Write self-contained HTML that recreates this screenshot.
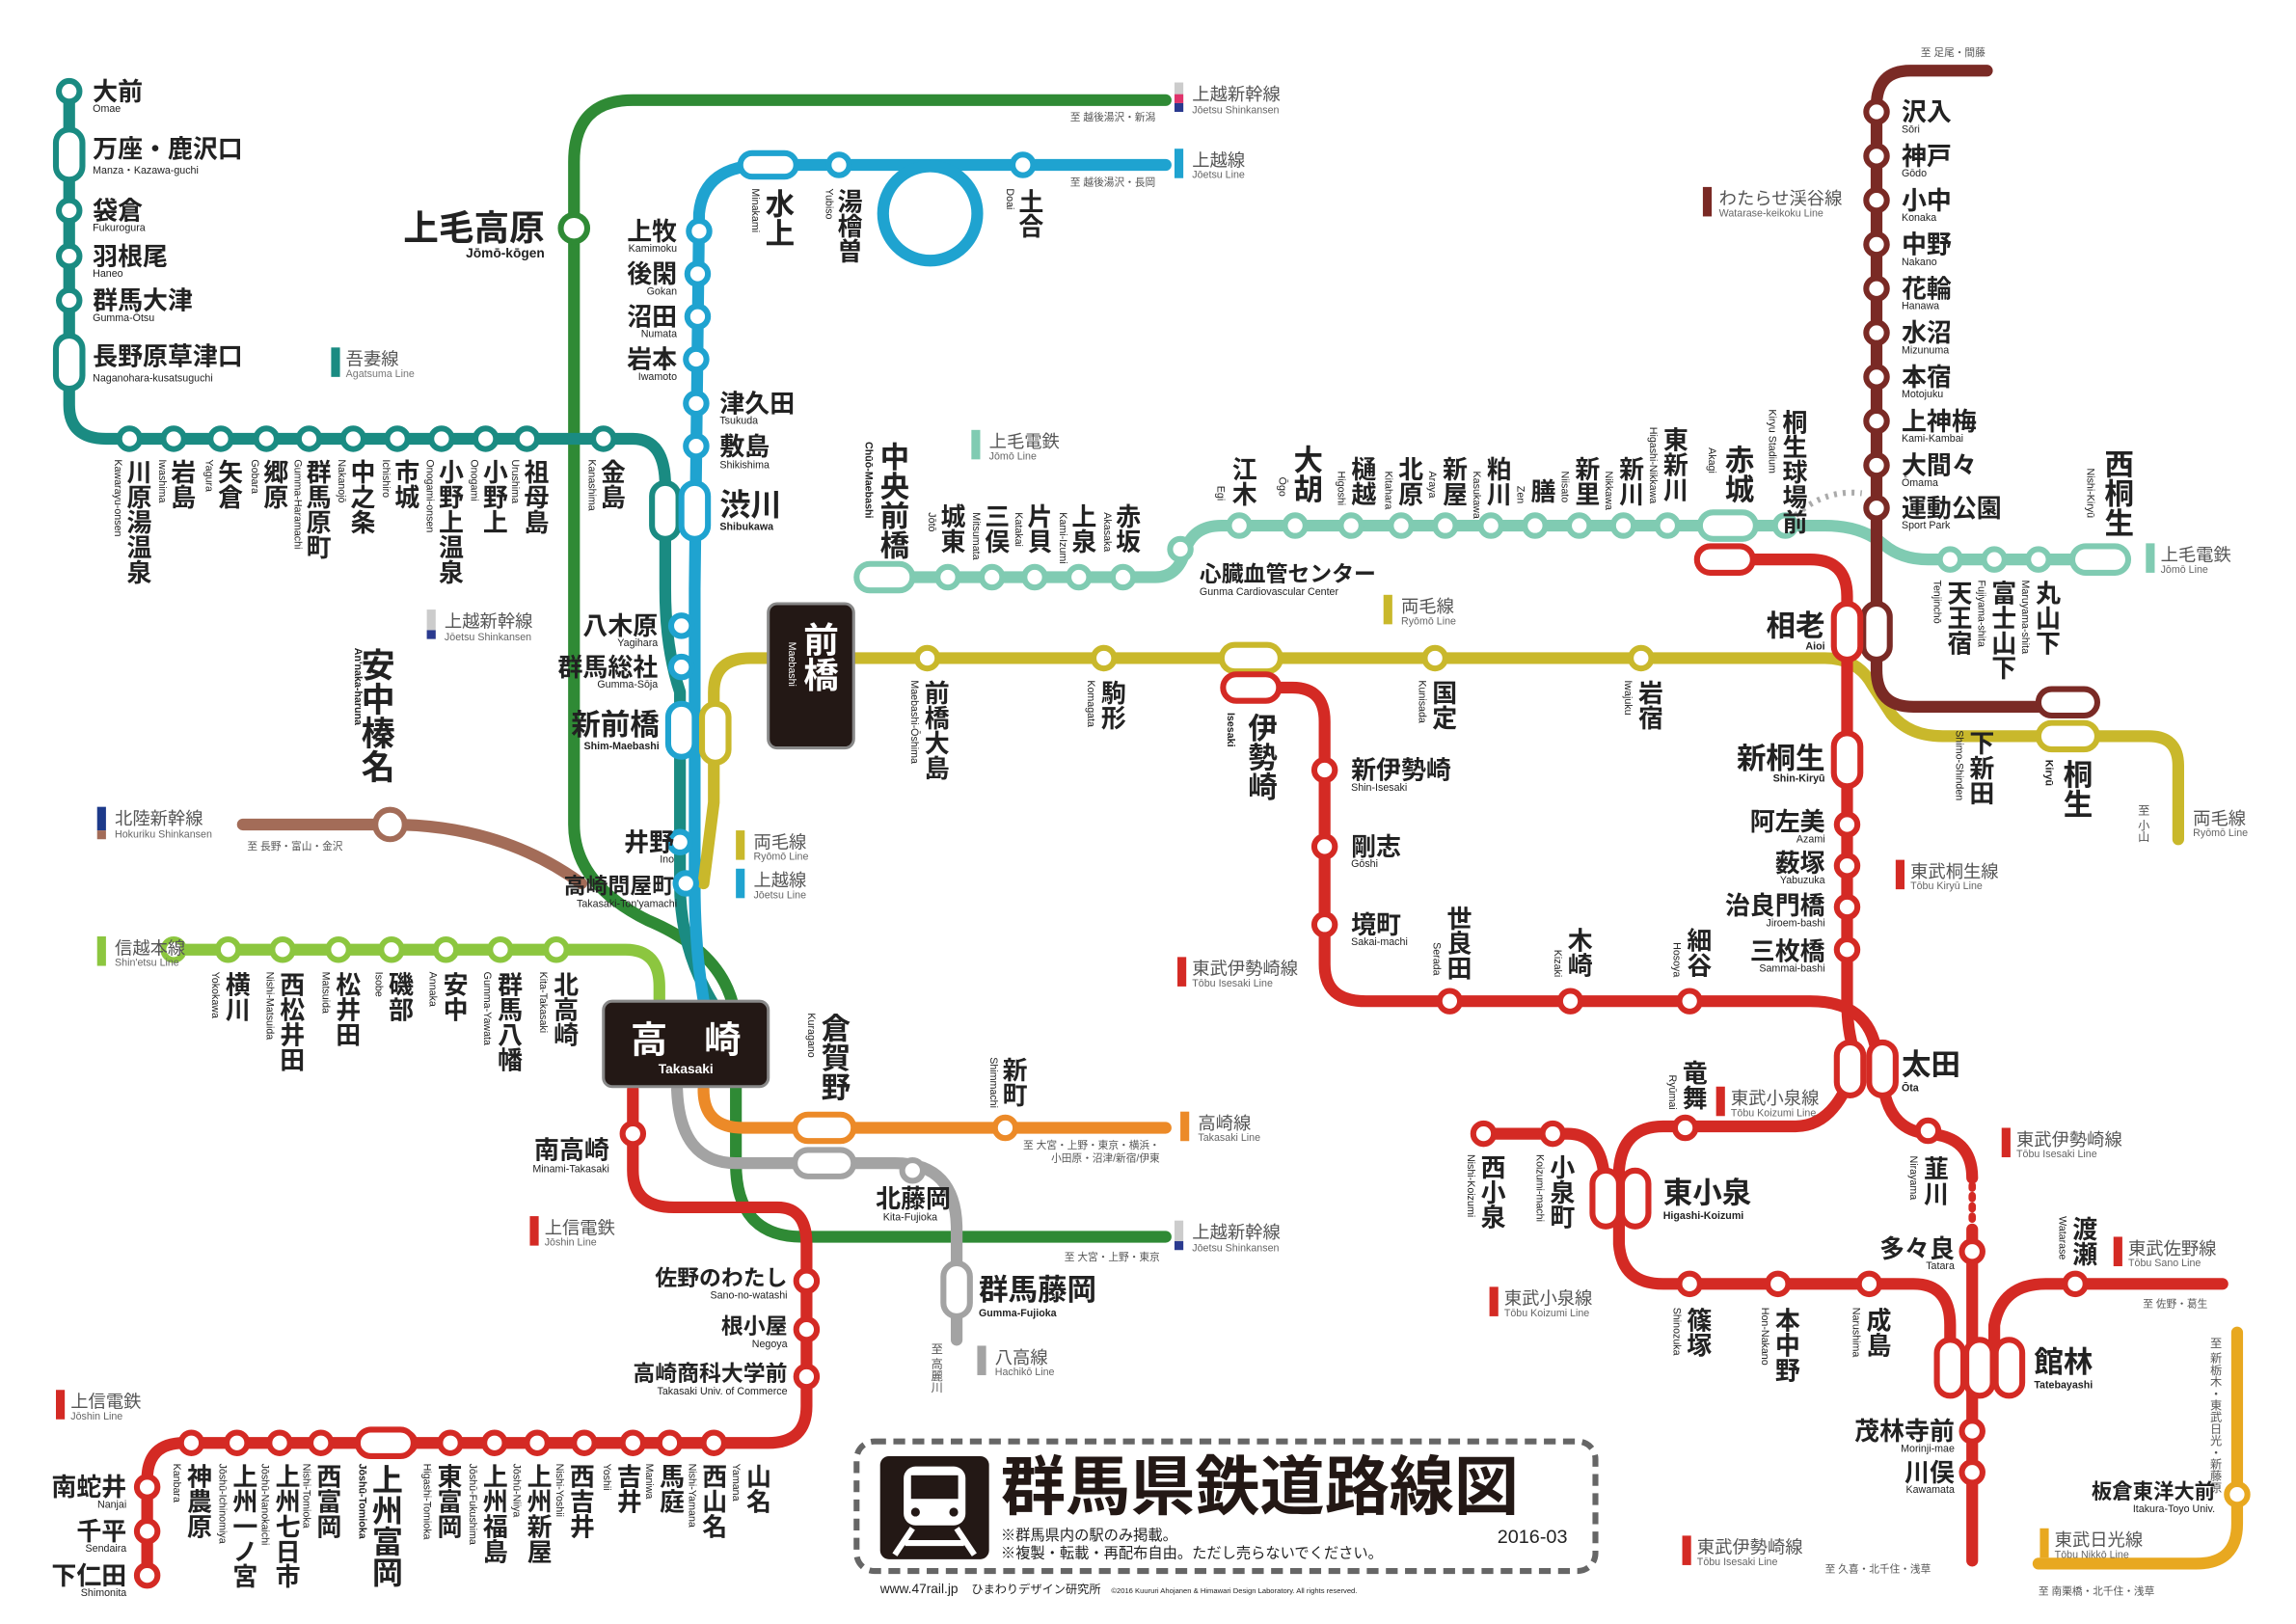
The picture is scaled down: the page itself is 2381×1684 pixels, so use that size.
<!DOCTYPE html>
<html><head><meta charset="utf-8"><style>
html,body{margin:0;padding:0;background:#fff}
svg{display:block}
text{font-family:"Liberation Sans","Noto Sans CJK JP",sans-serif;fill:#222}
.n{font-size:17px;font-weight:bold}
.b{font-size:22px;font-weight:bold}
.r{font-size:7px}
.l{font-size:12px;fill:#555}
.v{writing-mode:vertical-rl}
.ln{fill:none;stroke-width:8;stroke-linecap:round;stroke-linejoin:round}
.s{fill:#fff;stroke-width:4}
</style></head><body>
<svg width="2381" height="1684" viewBox="0 0 1560 1103" preserveAspectRatio="none" xmlns="http://www.w3.org/2000/svg">
<rect width="1560" height="1103" fill="#fff"/>

<path class="ln" stroke="#a36c58" d="M165,560 L265,560 Q340,560 395,600"/>
<path class="ln" stroke="#2f8a35" d="M792,68 L430,68 Q390,68 390,110 L390,560 Q390,600 440,625 Q500,650 500,700 L500,790 Q500,840 545,840 L792,840"/>
<path class="ln" stroke="#1a8b82" d="M47,62 L47,275 Q47,298 72,298 L430,298 Q452,298 452,330 L452,400 Q452,440 462,470 L462,600 Q462,650 490,690"/>
<path class="ln" stroke="#1fa3d0" d="M792,112 L520,112 Q478,112 475,145 L472,400 L472,600 Q472,650 480,690"/>
<circle cx="632" cy="145" r="32" fill="none" stroke="#1fa3d0" stroke-width="8"/>
<path class="ln" stroke="#c9b82b" d="M478,600 L485,545 L485,470 Q485,447 510,447 L1240,447 Q1262,447 1272,465 L1285,485 Q1297,500 1320,500 L1460,500 Q1480,500 1480,520 L1480,570"/>
<path class="ln" stroke="#80cbb2" d="M590,392 L785,392 Q800,392 805,375 Q810,357 830,357 L1240,357 Q1265,357 1280,370 Q1292,380 1310,380 L1440,380"/>
<path fill="none" stroke="#aaa" stroke-width="4" stroke-dasharray="2,4" d="M1220,350 Q1240,332 1265,335"/>
<path class="ln" stroke="#7a2a25" d="M1350,48 L1298,48 Q1275,48 1275,72 L1275,455 Q1275,480 1300,480 L1420,480"/>
<path class="ln" stroke="#d42a24" d="M1160,380 L1230,380 Q1255,380 1255,405 L1255,680 Q1255,700 1260,715"/>
<path class="ln" stroke="#d42a24" d="M840,467 L878,467 Q900,467 900,490 L900,655 Q900,680 928,680 L1230,680 Q1270,680 1275,715 L1280,740 Q1285,768 1310,770 Q1340,772 1340,800"/>
<path fill="none" stroke="#d42a24" stroke-width="5" stroke-dasharray="2,5" stroke-linecap="round" d="M1340,805 L1340,830"/>
<path class="ln" stroke="#d42a24" d="M1340,835 L1340,1060"/>
<path class="ln" stroke="#d42a24" d="M1258,730 Q1245,765 1220,765 L1130,765 Q1102,765 1100,795 L1100,845 Q1102,872 1130,872 L1300,872 Q1325,872 1325,900 L1325,930"/>
<path class="ln" stroke="#d42a24" d="M1090,800 Q1088,770 1065,770 L1005,770"/>
<path class="ln" stroke="#d42a24" d="M1355,925 L1355,900 Q1360,872 1390,872 L1510,872"/>
<path class="ln" stroke="#e8a820" d="M1520,905 L1520,1035 Q1520,1062 1492,1062 L1385,1062"/>
<path class="ln" stroke="#8cc63f" d="M118,645 L425,645 Q448,645 448,670 L448,690"/>
<path class="ln" stroke="#d42a24" d="M430,740 L430,795 Q430,820 458,820 L528,820 Q548,820 548,845 L548,955 Q548,980 522,980 L125,980 Q100,980 100,1005 L100,1070"/>
<path class="ln" stroke="#ec8a28" d="M478,740 Q478,766 505,766 L792,766"/>
<path class="ln" stroke="#a3a3a3" d="M460,740 Q462,790 500,790 L608,790 Q650,790 650,835 L650,910"/>

<g class="s" stroke="#1a8b82">
<circle cx="47" cy="62" r="7"/><rect x="38" y="88" width="18" height="34" rx="9"/><circle cx="47" cy="143" r="7"/><circle cx="47" cy="174" r="7"/><circle cx="47" cy="204" r="7"/><rect x="38" y="228" width="18" height="36" rx="9"/>
<circle cx="88" cy="298" r="7"/><circle cx="118" cy="298" r="7"/><circle cx="150" cy="298" r="7"/><circle cx="181" cy="298" r="7"/><circle cx="210" cy="298" r="7"/><circle cx="240" cy="298" r="7"/><circle cx="270" cy="298" r="7"/><circle cx="300" cy="298" r="7"/><circle cx="330" cy="298" r="7"/><circle cx="358" cy="298" r="7"/><circle cx="410" cy="298" r="7"/>
<rect x="443" y="328" width="18" height="38" rx="9"/>
</g>
<g class="s" stroke="#1fa3d0">
<rect x="503" y="104" width="38" height="16" rx="8"/><circle cx="570" cy="112" r="7"/><circle cx="695" cy="112" r="7"/>
<circle cx="475" cy="157" r="7"/><circle cx="474" cy="186" r="7"/><circle cx="474" cy="215" r="7"/><circle cx="473" cy="244" r="7"/><circle cx="473" cy="274" r="7"/><circle cx="473" cy="303" r="7"/>
<rect x="463" y="328" width="18" height="38" rx="9"/><circle cx="463" cy="425" r="7"/><circle cx="463" cy="453" r="7"/><rect x="454" y="478" width="18" height="36" rx="9"/><circle cx="462" cy="572" r="7"/><circle cx="466" cy="600" r="7"/>
</g>
<circle class="s" stroke="#2f8a35" cx="390" cy="155" r="9"/>
<circle class="s" stroke="#a36c58" cx="265" cy="560" r="10"/>
<g class="s" stroke="#c9b82b">
<rect x="477" y="478" width="18" height="40" rx="9"/><circle cx="630" cy="447" r="7"/><circle cx="750" cy="447" r="7"/><rect x="830" y="438" width="40" height="18" rx="9"/><circle cx="975" cy="447" r="7"/><circle cx="1115" cy="447" r="7"/><rect x="1385" y="491" width="40" height="18" rx="9"/>
</g>
<g class="s" stroke="#80cbb2">
<rect x="582" y="383" width="38" height="18" rx="9"/><circle cx="644" cy="392" r="7"/><circle cx="674" cy="392" r="7"/><circle cx="703" cy="392" r="7"/><circle cx="733" cy="392" r="7"/><circle cx="763" cy="392" r="7"/><circle cx="802" cy="373" r="7"/>
<circle cx="842" cy="357" r="7"/><circle cx="880" cy="357" r="7"/><circle cx="918" cy="357" r="7"/><circle cx="952" cy="357" r="7"/><circle cx="982" cy="357" r="7"/><circle cx="1013" cy="357" r="7"/><circle cx="1043" cy="357" r="7"/><circle cx="1073" cy="357" r="7"/><circle cx="1103" cy="357" r="7"/><circle cx="1133" cy="357" r="7"/><rect x="1155" y="348" width="38" height="18" rx="9"/><circle cx="1213" cy="357" r="7"/>
<circle cx="1325" cy="380" r="7"/><circle cx="1355" cy="380" r="7"/><circle cx="1385" cy="380" r="7"/><rect x="1408" y="371" width="38" height="18" rx="9"/>
</g>
<g class="s" stroke="#7a2a25">
<circle cx="1275" cy="76" r="7"/><circle cx="1275" cy="106" r="7"/><circle cx="1275" cy="136" r="7"/><circle cx="1275" cy="166" r="7"/><circle cx="1275" cy="196" r="7"/><circle cx="1275" cy="226" r="7"/><circle cx="1275" cy="256" r="7"/><circle cx="1275" cy="286" r="7"/><circle cx="1275" cy="316" r="7"/><circle cx="1275" cy="345" r="7"/><rect x="1266" y="410" width="18" height="38" rx="9"/><rect x="1385" y="468" width="40" height="18" rx="9"/>
</g>
<g class="s" stroke="#d42a24">
<rect x="1153" y="371" width="38" height="18" rx="9"/><rect x="1246" y="410" width="18" height="38" rx="9"/><rect x="1246" y="498" width="18" height="36" rx="9"/><circle cx="1255" cy="560" r="7"/><circle cx="1255" cy="588" r="7"/><circle cx="1255" cy="616" r="7"/><circle cx="1255" cy="645" r="7"/>
<rect x="831" y="458" width="38" height="18" rx="9"/><circle cx="900" cy="523" r="7"/><circle cx="900" cy="575" r="7"/><circle cx="900" cy="628" r="7"/><circle cx="985" cy="680" r="7"/><circle cx="1067" cy="680" r="7"/><circle cx="1148" cy="680" r="7"/>
<rect x="1248" y="708" width="18" height="36" rx="9"/><rect x="1270" y="708" width="18" height="36" rx="9"/><circle cx="1310" cy="768" r="7"/><circle cx="1340" cy="850" r="7"/><circle cx="1340" cy="972" r="7"/><circle cx="1340" cy="1000" r="7"/>
<rect x="1316" y="910" width="18" height="38" rx="9"/><rect x="1336" y="910" width="18" height="38" rx="9"/><rect x="1356" y="910" width="18" height="38" rx="9"/>
<circle cx="1145" cy="766" r="7"/><circle cx="1008" cy="770" r="7"/><circle cx="1055" cy="770" r="7"/><rect x="1082" y="795" width="18" height="38" rx="9"/><rect x="1102" y="795" width="18" height="38" rx="9"/>
<circle cx="1148" cy="872" r="7"/><circle cx="1208" cy="872" r="7"/><circle cx="1270" cy="872" r="7"/><circle cx="1410" cy="872" r="7"/>
<circle cx="430" cy="770" r="7"/><circle cx="548" cy="870" r="7"/><circle cx="548" cy="903" r="7"/><circle cx="548" cy="935" r="7"/>
<circle cx="485" cy="980" r="7"/><circle cx="455" cy="980" r="7"/><circle cx="430" cy="980" r="7"/><circle cx="397" cy="980" r="7"/><circle cx="365" cy="980" r="7"/><circle cx="336" cy="980" r="7"/><circle cx="306" cy="980" r="7"/><circle cx="275" cy="980" r="7"/><rect x="243" y="971" width="38" height="18" rx="9"/><circle cx="218" cy="980" r="7"/><circle cx="190" cy="980" r="7"/><circle cx="161" cy="980" r="7"/><circle cx="130" cy="980" r="7"/>
<circle cx="100" cy="1010" r="7"/><circle cx="100" cy="1040" r="7"/><circle cx="100" cy="1070" r="7"/>
</g>
<circle class="s" stroke="#e8a820" cx="1520" cy="1015" r="7"/>
<g class="s" stroke="#8cc63f">
<circle cx="118" cy="645" r="7"/><circle cx="155" cy="645" r="7"/><circle cx="192" cy="645" r="7"/><circle cx="230" cy="645" r="7"/><circle cx="266" cy="645" r="7"/><circle cx="303" cy="645" r="7"/><circle cx="340" cy="645" r="7"/><circle cx="378" cy="645" r="7"/>
</g>
<rect class="s" stroke="#ec8a28" x="540" y="757" width="40" height="18" rx="9"/><circle class="s" stroke="#ec8a28" cx="683" cy="766" r="7"/>
<rect class="s" stroke="#a3a3a3" x="540" y="781" width="40" height="18" rx="9"/><circle class="s" stroke="#a3a3a3" cx="620" cy="795" r="7"/><rect class="s" stroke="#a3a3a3" x="641" y="858" width="18" height="36" rx="9"/>

<rect x="522" y="410" width="58" height="98" rx="6" fill="#231815" stroke="#888" stroke-width="2"/>
<text x="556" y="422" class="v" style="font-size:24px;font-weight:bold;fill:#fff">前橋</text>
<text x="538" y="436" class="v r" style="fill:#fff">Maebashi</text>
<rect x="410" y="680" width="112" height="58" rx="6" fill="#231815" stroke="#888" stroke-width="2"/>
<text x="466" y="715" text-anchor="middle" style="font-size:25px;font-weight:bold;fill:#fff">高　崎</text>
<text x="466" y="729" text-anchor="middle" class="r" style="fill:#fff;font-weight:bold;font-size:9px">Takasaki</text>

<text x="63" y="68" class="n">大前</text><text x="63" y="76" class="r">Omae</text>
<text x="63" y="107" class="n">万座・鹿沢口</text><text x="63" y="118" class="r">Manza・Kazawa-guchi</text>
<text x="63" y="149" class="n">袋倉</text><text x="63" y="157" class="r">Fukurogura</text>
<text x="63" y="180" class="n">羽根尾</text><text x="63" y="188" class="r">Haneo</text>
<text x="63" y="210" class="n">群馬大津</text><text x="63" y="218" class="r">Gumma-Ōtsu</text>
<text x="63" y="248" class="n">長野原草津口</text><text x="63" y="259" class="r">Naganohara-kusatsuguchi</text>
<rect x="225" y="236" width="6" height="20" fill="#1a8b82"/><text x="235" y="248" class="l">吾妻線</text><text x="235" y="256" class="r" style="fill:#777">Agatsuma Line</text>
<g class="n">
<text x="93" y="312" class="v">川原湯温泉</text><text x="123" y="312" class="v">岩島</text><text x="155" y="312" class="v">矢倉</text><text x="186" y="312" class="v">郷原</text><text x="215" y="312" class="v">群馬原町</text><text x="245" y="312" class="v">中之条</text><text x="275" y="312" class="v">市城</text><text x="305" y="312" class="v">小野上温泉</text><text x="335" y="312" class="v">小野上</text><text x="363" y="312" class="v">祖母島</text><text x="415" y="312" class="v">金島</text>
</g>
<g class="r">
<text x="80" y="312" class="v">Kawarayu-onsen</text><text x="110" y="312" class="v">Iwashima</text><text x="142" y="312" class="v">Yagura</text><text x="173" y="312" class="v">Gobara</text><text x="202" y="312" class="v">Gumma-Haramachi</text><text x="232" y="312" class="v">Nakanojō</text><text x="262" y="312" class="v">Ichishiro</text><text x="292" y="312" class="v">Onogami-onsen</text><text x="322" y="312" class="v">Onogami</text><text x="350" y="312" class="v">Urushima</text><text x="402" y="312" class="v">Kanashima</text>
</g>

<text x="370" y="163" text-anchor="end" style="font-size:24px;font-weight:bold">上毛高原</text>
<text x="370" y="175" text-anchor="end" class="r" style="font-size:9px;font-weight:bold">Jōmō-kōgen</text>
<text x="460" y="163" text-anchor="end" class="n">上牧</text><text x="460" y="171" text-anchor="end" class="r">Kamimoku</text>
<text x="460" y="192" text-anchor="end" class="n">後閑</text><text x="460" y="200" text-anchor="end" class="r">Gokan</text>
<text x="460" y="221" text-anchor="end" class="n">沼田</text><text x="460" y="229" text-anchor="end" class="r">Numata</text>
<text x="460" y="250" text-anchor="end" class="n">岩本</text><text x="460" y="258" text-anchor="end" class="r">Iwamoto</text>
<text x="489" y="280" class="n">津久田</text><text x="489" y="288" class="r">Tsukuda</text>
<text x="489" y="309" class="n">敷島</text><text x="489" y="318" class="r">Shikishima</text>
<text x="489" y="350" class="b" style="font-size:21px">渋川</text><text x="489" y="360" class="r" style="font-weight:bold">Shibukawa</text>
<text x="447" y="431" text-anchor="end" class="n">八木原</text><text x="447" y="439" text-anchor="end" class="r">Yagihara</text>
<text x="447" y="459" text-anchor="end" class="n">群馬総社</text><text x="447" y="467" text-anchor="end" class="r">Gumma-Sōja</text>
<text x="448" y="499" text-anchor="end" class="b" style="font-size:20px">新前橋</text><text x="448" y="509" text-anchor="end" class="r" style="font-weight:bold">Shim-Maebashi</text>
<text x="458" y="578" text-anchor="end" class="n">井野</text><text x="458" y="586" text-anchor="end" class="r">Ino</text>
<text x="458" y="607" text-anchor="end" class="n" style="font-size:15px">高崎問屋町</text><text x="460" y="616" text-anchor="end" class="r">Takasaki-Ton'yamachi</text>
<text x="528" y="128" class="v b" style="font-size:20px">水上</text><text x="513" y="128" class="v r">Minakami</text>
<text x="576" y="128" class="v n">湯檜曽</text><text x="563" y="128" class="v r">Yubiso</text>
<text x="699" y="128" class="v n">土合</text><text x="686" y="128" class="v r">Doai</text>
<rect x="798" y="56" width="6" height="20" fill="#ccc"/><rect x="798" y="70" width="6" height="6" fill="#2a3a8f"/><rect x="798" y="64" width="6" height="6" fill="#e0336b"/>
<text x="810" y="68" class="l">上越新幹線</text><text x="810" y="77" class="r" style="fill:#666">Jōetsu Shinkansen</text>
<text x="785" y="82" text-anchor="end" class="r" style="fill:#555">至 越後湯沢・新潟</text>
<rect x="798" y="101" width="6" height="20" fill="#1fa3d0"/><text x="810" y="113" class="l">上越線</text><text x="810" y="121" class="r" style="fill:#666">Jōetsu Line</text>
<text x="785" y="126" text-anchor="end" class="r" style="fill:#555">至 越後湯沢・長岡</text>
<rect x="290" y="414" width="6" height="20" fill="#ccc"/><rect x="290" y="428" width="6" height="6" fill="#2a3a8f"/>
<text x="302" y="426" class="l">上越新幹線</text><text x="302" y="435" class="r" style="fill:#666">Jōetsu Shinkansen</text>
<text x="255" y="440" class="v" style="font-size:23px;font-weight:bold">安中榛名</text><text x="243" y="440" class="v r" style="font-weight:bold">An'naka-haruna</text>
<rect x="66" y="548" width="6" height="16" fill="#1d3a8a"/><rect x="66" y="564" width="6" height="6" fill="#a36c58"/>
<text x="78" y="560" class="l">北陸新幹線</text><text x="78" y="569" class="r" style="fill:#666">Hokuriku Shinkansen</text>
<text x="168" y="577" class="r" style="fill:#555">至 長野・富山・金沢</text>
<rect x="500" y="564" width="6" height="20" fill="#c9b82b"/><text x="512" y="576" class="l">両毛線</text><text x="512" y="584" class="r" style="fill:#666">Ryōmō Line</text>
<rect x="500" y="590" width="6" height="20" fill="#1fa3d0"/><text x="512" y="602" class="l">上越線</text><text x="512" y="610" class="r" style="fill:#666">Jōetsu Line</text>
<rect x="66" y="636" width="6" height="20" fill="#8cc63f"/><text x="78" y="648" class="l">信越本線</text><text x="78" y="656" class="r" style="fill:#666">Shin'etsu Line</text>
<g class="n"><text x="160" y="660" class="v">横川</text><text x="197" y="660" class="v">西松井田</text><text x="235" y="660" class="v">松井田</text><text x="271" y="660" class="v">磯部</text><text x="308" y="660" class="v">安中</text><text x="345" y="660" class="v">群馬八幡</text><text x="383" y="660" class="v">北高崎</text></g>
<g class="r"><text x="146" y="660" class="v">Yokokawa</text><text x="183" y="660" class="v">Nishi-Matsuida</text><text x="221" y="660" class="v">Matsuida</text><text x="257" y="660" class="v">Isobe</text><text x="294" y="660" class="v">Annaka</text><text x="331" y="660" class="v">Gumma-Yawata</text><text x="369" y="660" class="v">Kita-Takasaki</text></g>
<text x="566" y="688" class="v b" style="font-size:20px">倉賀野</text><text x="551" y="688" class="v r">Kuragano</text>
<text x="688" y="718" class="v n">新町</text><text x="675" y="718" class="v r">Shimmachi</text>
<rect x="802" y="755" width="6" height="20" fill="#ec8a28"/><text x="814" y="767" class="l">高崎線</text><text x="814" y="775" class="r" style="fill:#666">Takasaki Line</text>
<text x="788" y="780" text-anchor="end" class="r" style="fill:#555">至 大宮・上野・東京・横浜・</text><text x="788" y="789" text-anchor="end" class="r" style="fill:#555">小田原・沼津/新宿/伊東</text>
<text x="595" y="820" class="n">北藤岡</text><text x="600" y="829" class="r">Kita-Fujioka</text>
<text x="665" y="883" class="b" style="font-size:20px">群馬藤岡</text><text x="665" y="894" class="r" style="font-weight:bold">Gumma-Fujioka</text>
<rect x="664" y="914" width="6" height="20" fill="#a3a3a3"/><text x="676" y="926" class="l">八高線</text><text x="676" y="934" class="r" style="fill:#666">Hachikō Line</text>
<text x="636" y="912" class="v r" style="font-size:8px;fill:#555">至 高麗川</text>
<rect x="798" y="829" width="6" height="20" fill="#ccc"/><rect x="798" y="843" width="6" height="6" fill="#2a3a8f"/>
<text x="810" y="841" class="l">上越新幹線</text><text x="810" y="850" class="r" style="fill:#666">Jōetsu Shinkansen</text>
<text x="788" y="856" text-anchor="end" class="r" style="fill:#555">至 大宮・上野・東京</text>
<text x="414" y="787" text-anchor="end" class="n">南高崎</text><text x="414" y="796" text-anchor="end" class="r">Minami-Takasaki</text>
<rect x="360" y="826" width="6" height="20" fill="#d42a24"/><text x="370" y="838" class="l">上信電鉄</text><text x="370" y="846" class="r" style="fill:#666">Jōshin Line</text>
<text x="535" y="873" text-anchor="end" class="n" style="font-size:15px">佐野のわたし</text><text x="535" y="882" text-anchor="end" class="r">Sano-no-watashi</text>
<text x="535" y="906" text-anchor="end" class="n" style="font-size:15px">根小屋</text><text x="535" y="915" text-anchor="end" class="r">Negoya</text>
<text x="535" y="938" text-anchor="end" class="n" style="font-size:15px">高崎商科大学前</text><text x="535" y="947" text-anchor="end" class="r">Takasaki Univ. of Commerce</text>
<rect x="38" y="944" width="6" height="20" fill="#d42a24"/><text x="48" y="956" class="l">上信電鉄</text><text x="48" y="964" class="r" style="fill:#666">Jōshin Line</text>
<g class="n"><text x="514" y="994" class="v">山名</text><text x="484" y="994" class="v">西山名</text><text x="455" y="994" class="v">馬庭</text><text x="426" y="994" class="v">吉井</text><text x="394" y="994" class="v">西吉井</text><text x="365" y="994" class="v">上州新屋</text><text x="335" y="994" class="v">上州福島</text><text x="304" y="994" class="v">東富岡</text><text x="262" y="994" class="v" style="font-size:21px">上州富岡</text><text x="222" y="994" class="v">西富岡</text><text x="194" y="994" class="v">上州七日市</text><text x="165" y="994" class="v">上州一ノ宮</text><text x="134" y="994" class="v">神農原</text></g>
<g class="r"><text x="500" y="994" class="v">Yamana</text><text x="470" y="994" class="v">Nishi-Yamana</text><text x="441" y="994" class="v">Maniwa</text><text x="412" y="994" class="v">Yoshii</text><text x="380" y="994" class="v">Nishi-Yoshii</text><text x="351" y="994" class="v">Jōshū-Niiya</text><text x="321" y="994" class="v">Jōshū-Fukushima</text><text x="290" y="994" class="v">Higashi-Tomioka</text><text x="246" y="994" class="v" style="font-weight:bold">Jōshū-Tomioka</text><text x="208" y="994" class="v">Nishi-Tomioka</text><text x="180" y="994" class="v">Jōshū-Nanokaichi</text><text x="151" y="994" class="v">Jōshū-Ichinomiya</text><text x="120" y="994" class="v">Kanbara</text></g>
<text x="86" y="1016" text-anchor="end" class="n">南蛇井</text><text x="86" y="1024" text-anchor="end" class="r">Nanjai</text>
<text x="86" y="1046" text-anchor="end" class="n">千平</text><text x="86" y="1054" text-anchor="end" class="r">Sendaira</text>
<text x="86" y="1076" text-anchor="end" class="n">下仁田</text><text x="86" y="1084" text-anchor="end" class="r">Shimonita</text>

<text x="606" y="300" class="v" style="font-size:20px;font-weight:bold">中央前橋</text><text x="590" y="300" class="v r" style="font-weight:bold">Chūō-Maebashi</text>
<rect x="660" y="292" width="6" height="20" fill="#80cbb2"/><text x="672" y="304" class="l">上毛電鉄</text><text x="672" y="312" class="r" style="fill:#666">Jōmō Line</text>
<g class="n"><text x="646" y="342" class="v">城東</text><text x="676" y="342" class="v">三俣</text><text x="705" y="342" class="v">片貝</text><text x="735" y="342" class="v">上泉</text><text x="765" y="342" class="v">赤坂</text></g>
<g class="r"><text x="633" y="348" class="v">Jōtō</text><text x="663" y="348" class="v">Mitsumata</text><text x="692" y="348" class="v">Katakai</text><text x="722" y="348" class="v">Kami-Izumi</text><text x="752" y="348" class="v">Akasaka</text></g>
<text x="815" y="395" class="n" style="font-size:15px">心臓血管センター</text><text x="815" y="404" class="r">Gunma Cardiovascular Center</text>
<g class="n"><text x="844" y="310" class="v">江木</text><text x="887" y="302" class="v" style="font-size:20px">大胡</text><text x="925" y="310" class="v">樋越</text><text x="957" y="310" class="v">北原</text><text x="987" y="310" class="v">新屋</text><text x="1017" y="310" class="v">粕川</text><text x="1047" y="325" class="v">膳</text><text x="1077" y="310" class="v">新里</text><text x="1107" y="310" class="v">新川</text><text x="1137" y="290" class="v">東新川</text><text x="1180" y="302" class="v" style="font-size:20px">赤城</text><text x="1218" y="278" class="v">桐生球場前</text></g>
<g class="r"><text x="829" y="330" class="v">Egi</text><text x="871" y="324" class="v">Ōgo</text><text x="911" y="320" class="v">Higoshi</text><text x="943" y="320" class="v">Kitahara</text><text x="973" y="320" class="v">Araya</text><text x="1003" y="320" class="v">Kasukawa</text><text x="1033" y="330" class="v">Zen</text><text x="1063" y="320" class="v">Niisato</text><text x="1093" y="320" class="v">Nikkawa</text><text x="1123" y="290" class="v">Higashi-Nikkawa</text><text x="1163" y="304" class="v">Akagi</text><text x="1204" y="278" class="v">Kiryu Stadium</text></g>
<text x="1438" y="305" class="v" style="font-size:20px;font-weight:bold">西桐生</text><text x="1420" y="318" class="v r">Nishi-Kiryū</text>
<rect x="1458" y="369" width="6" height="20" fill="#80cbb2"/><text x="1468" y="381" class="l">上毛電鉄</text><text x="1468" y="389" class="r" style="fill:#666">Jōmō Line</text>
<g class="n"><text x="1330" y="394" class="v">天王宿</text><text x="1360" y="394" class="v">富士山下</text><text x="1390" y="394" class="v">丸山下</text></g>
<g class="r"><text x="1316" y="394" class="v">Tenjinchō</text><text x="1346" y="394" class="v">Fujiyama-shita</text><text x="1376" y="394" class="v">Maruyama-shita</text></g>
<rect x="940" y="404" width="6" height="20" fill="#c9b82b"/><text x="952" y="416" class="l">両毛線</text><text x="952" y="424" class="r" style="fill:#666">Ryōmō Line</text>
<g class="n"><text x="635" y="462" class="v">前橋大島</text><text x="755" y="462" class="v">駒形</text><text x="980" y="462" class="v">国定</text><text x="1120" y="462" class="v">岩宿</text></g>
<g class="r"><text x="621" y="462" class="v">Maebashi-Ōshima</text><text x="741" y="462" class="v">Komagata</text><text x="966" y="462" class="v">Kunisada</text><text x="1106" y="462" class="v">Iwajuku</text></g>
<text x="856" y="484" class="v" style="font-size:20px;font-weight:bold">伊勢崎</text><text x="836" y="484" class="v r" style="font-weight:bold">Isesaki</text>
<rect x="1478" y="548" width="6" height="20" fill="#c9b82b"/><text x="1490" y="560" class="l">両毛線</text><text x="1490" y="568" class="r" style="fill:#666">Ryōmō Line</text>
<text x="1456" y="546" class="v r" style="font-size:8px;fill:#555">至 小山</text>
<text x="1410" y="516" class="v" style="font-size:20px;font-weight:bold">桐生</text><text x="1392" y="516" class="v r" style="font-weight:bold">Kiryū</text>
<text x="1345" y="496" class="v n">下新田</text><text x="1331" y="496" class="v r">Shimo-Shinden</text>
<text x="1305" y="38" class="r" style="fill:#555">至 足尾・間藤</text>
<g class="n"><text x="1292" y="82">沢入</text><text x="1292" y="112">神戸</text><text x="1292" y="142">小中</text><text x="1292" y="172">中野</text><text x="1292" y="202">花輪</text><text x="1292" y="232">水沼</text><text x="1292" y="262">本宿</text><text x="1292" y="292">上神梅</text><text x="1292" y="322">大間々</text><text x="1292" y="351">運動公園</text></g>
<g class="r"><text x="1292" y="90">Sōri</text><text x="1292" y="120">Gōdo</text><text x="1292" y="150">Konaka</text><text x="1292" y="180">Nakano</text><text x="1292" y="210">Hanawa</text><text x="1292" y="240">Mizunuma</text><text x="1292" y="270">Motojuku</text><text x="1292" y="300">Kami-Kambai</text><text x="1292" y="330">Ōmama</text><text x="1292" y="359">Sport Park</text></g>
<rect x="1157" y="127" width="6" height="20" fill="#7a2a25"/><text x="1168" y="139" class="l">わたらせ渓谷線</text><text x="1168" y="147" class="r" style="fill:#666">Watarase-keikoku Line</text>
<text x="1240" y="432" text-anchor="end" class="b" style="font-size:20px">相老</text><text x="1240" y="441" text-anchor="end" class="r" style="font-weight:bold">Aioi</text>
<text x="1240" y="522" text-anchor="end" class="b" style="font-size:20px">新桐生</text><text x="1240" y="531" text-anchor="end" class="r" style="font-weight:bold">Shin-Kiryū</text>
<text x="1240" y="564" text-anchor="end" class="n">阿左美</text><text x="1240" y="572" text-anchor="end" class="r">Azami</text>
<text x="1240" y="592" text-anchor="end" class="n">薮塚</text><text x="1240" y="600" text-anchor="end" class="r">Yabuzuka</text>
<text x="1240" y="621" text-anchor="end" class="n">治良門橋</text><text x="1240" y="629" text-anchor="end" class="r">Jiroem-bashi</text>
<text x="1240" y="652" text-anchor="end" class="n">三枚橋</text><text x="1240" y="660" text-anchor="end" class="r">Sammai-bashi</text>
<rect x="1288" y="584" width="6" height="20" fill="#d42a24"/><text x="1298" y="596" class="l">東武桐生線</text><text x="1298" y="604" class="r" style="fill:#666">Tōbu Kiryū Line</text>
<text x="918" y="529" class="n">新伊勢崎</text><text x="918" y="537" class="r">Shin-Isesaki</text>
<text x="918" y="581" class="n">剛志</text><text x="918" y="589" class="r">Gōshi</text>
<text x="918" y="634" class="n">境町</text><text x="918" y="642" class="r">Sakai-machi</text>
<g class="n"><text x="990" y="615" class="v">世良田</text><text x="1072" y="630" class="v">木崎</text><text x="1153" y="630" class="v">細谷</text></g>
<g class="r"><text x="976" y="640" class="v">Serada</text><text x="1058" y="645" class="v">Kizaki</text><text x="1139" y="640" class="v">Hosoya</text></g>
<rect x="800" y="650" width="6" height="20" fill="#d42a24"/><text x="810" y="662" class="l">東武伊勢崎線</text><text x="810" y="670" class="r" style="fill:#666">Tōbu Isesaki Line</text>
<text x="1292" y="730" class="b" style="font-size:20px">太田</text><text x="1292" y="741" class="r" style="font-weight:bold">Ōta</text>
<text x="1314" y="785" class="v n">韮川</text><text x="1300" y="785" class="v r">Nirayama</text>
<rect x="1360" y="766" width="6" height="20" fill="#d42a24"/><text x="1370" y="778" class="l">東武伊勢崎線</text><text x="1370" y="786" class="r" style="fill:#666">Tōbu Isesaki Line</text>
<text x="1328" y="854" text-anchor="end" class="n">多々良</text><text x="1328" y="862" text-anchor="end" class="r">Tatara</text>
<text x="1382" y="932" class="b" style="font-size:20px">館林</text><text x="1382" y="943" class="r" style="font-weight:bold">Tatebayashi</text>
<text x="1328" y="978" text-anchor="end" class="n">茂林寺前</text><text x="1328" y="986" text-anchor="end" class="r">Morinji-mae</text>
<text x="1328" y="1006" text-anchor="end" class="n">川俣</text><text x="1328" y="1014" text-anchor="end" class="r">Kawamata</text>
<rect x="1143" y="1043" width="6" height="20" fill="#d42a24"/><text x="1153" y="1055" class="l">東武伊勢崎線</text><text x="1153" y="1063" class="r" style="fill:#666">Tōbu Isesaki Line</text>
<text x="1240" y="1068" class="r" style="fill:#555">至 久喜・北千住・浅草</text>
<text x="1150" y="720" class="v n">竜舞</text><text x="1136" y="730" class="v r">Ryūmai</text>
<rect x="1166" y="738" width="6" height="20" fill="#d42a24"/><text x="1176" y="750" class="l">東武小泉線</text><text x="1176" y="758" class="r" style="fill:#666">Tōbu Koizumi Line</text>
<text x="1013" y="784" class="v n">西小泉</text><text x="999" y="784" class="v r">Nishi-Koizumi</text>
<text x="1060" y="784" class="v n">小泉町</text><text x="1046" y="784" class="v r">Koizumi-machi</text>
<text x="1130" y="817" class="b" style="font-size:20px">東小泉</text><text x="1130" y="828" class="r" style="font-weight:bold">Higashi-Koizumi</text>
<rect x="1012" y="874" width="6" height="20" fill="#d42a24"/><text x="1022" y="886" class="l">東武小泉線</text><text x="1022" y="894" class="r" style="fill:#666">Tōbu Koizumi Line</text>
<g class="n"><text x="1153" y="888" class="v">篠塚</text><text x="1213" y="888" class="v">本中野</text><text x="1275" y="888" class="v">成島</text></g>
<g class="r"><text x="1139" y="888" class="v">Shinozuka</text><text x="1199" y="888" class="v">Hon-Nakano</text><text x="1261" y="888" class="v">Narushima</text></g>
<text x="1415" y="826" class="v n">渡瀬</text><text x="1401" y="826" class="v r">Watarase</text>
<rect x="1436" y="840" width="6" height="20" fill="#d42a24"/><text x="1446" y="852" class="l">東武佐野線</text><text x="1446" y="860" class="r" style="fill:#666">Tōbu Sano Line</text>
<text x="1456" y="888" class="r" style="fill:#555">至 佐野・葛生</text>
<text x="1505" y="908" class="v r" style="font-size:8px;fill:#555">至 新栃木・東武日光・新藤原</text>
<text x="1505" y="1018" text-anchor="end" class="n" style="font-size:14px">板倉東洋大前</text><text x="1505" y="1027" text-anchor="end" class="r">Itakura-Toyo Univ.</text>
<rect x="1386" y="1038" width="6" height="20" fill="#e8a820"/><text x="1396" y="1050" class="l">東武日光線</text><text x="1396" y="1058" class="r" style="fill:#666">Tōbu Nikkō Line</text>
<text x="1385" y="1083" class="r" style="fill:#555">至 南栗橋・北千住・浅草</text>

<rect x="582" y="979" width="502" height="88" rx="12" fill="#fff" stroke="#666" stroke-width="4" stroke-dasharray="8,5"/>
<rect x="598" y="989" width="74" height="70" rx="6" fill="#231815"/>
<rect x="614" y="996" width="42" height="40" rx="8" fill="#fff"/><rect x="619" y="1002" width="32" height="16" fill="#231815"/>
<circle cx="622" cy="1027" r="3" fill="#231815"/><circle cx="648" cy="1027" r="3" fill="#231815"/>
<path d="M620,1038 L608,1056 M650,1038 L662,1056 M615,1048 L655,1048" stroke="#fff" stroke-width="4"/>
<text x="680" y="1025" style="font-size:44px;font-weight:bold;fill:#231815">群馬県鉄道路線図</text>
<text x="680" y="1046" style="font-size:10px">※群馬県内の駅のみ掲載。</text>
<text x="680" y="1058" style="font-size:10px">※複製・転載・再配布自由。ただし売らないでください。</text>
<text x="1065" y="1048" text-anchor="end" style="font-size:13px">2016-03</text>
<text x="598" y="1082" style="font-size:9px">www.47rail.jp</text>
<text x="660" y="1082" style="font-size:8px">ひまわりデザイン研究所</text>
<text x="755" y="1082" style="font-size:5px">©2016 Kuururi Ahojanen &amp; Himawari Design Laboratory. All rights reserved.</text>
</svg>
</body></html>
